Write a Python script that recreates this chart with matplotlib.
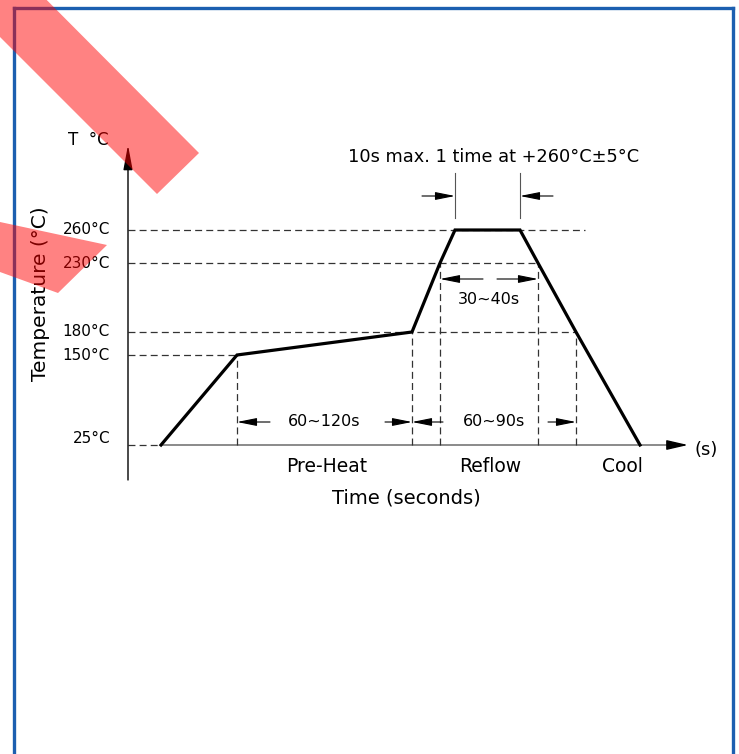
import numpy as np
import matplotlib.pyplot as plt
from matplotlib.patches import Polygon
from matplotlib.lines import Line2D

################################################################
# reflow profile (schematic)
################################################################

# temperature levels and their drawn height above the time axis (schematic, not linear)
levels = [25, 150, 180, 230, 260]
level_h = [0, 90, 113, 182, 215]
level_labels = ["25°C", "150°C", "180°C", "230°C", "260°C"]

# profile corners: schematic time (px from the T axis) / temperature
prof_time = [33, 109, 284, 312, 327, 392, 410, 448, 512]
prof_temp = [25, 150, 180, 230, 260, 260, 230, 180, 25]

# how far each horizontal guide runs to the right
guide_end = [33, 109, 448, 410, 457]
# points that get a vertical guide down to the axis
vguide_idx = [1, 2, 3, 6, 7]

# dimension spans: (index from, index to, label, arrow height, label height, tails)
spans = [
    (1, 2, "60~120s", 23, 23, (33, 27)),
    (2, 7, "60~90s", 23, 23, (31, 28)),
    (3, 6, "30~40s", 166, 146, (43, 41)),
]

region_names = ["Pre-Heat", "Reflow", "Cool"]
region_x = [199, 362, 494]

W, H = 739, 754


def fwd(t):
    return np.interp(t, [-975] + levels + [1260], [-1000] + level_h + [1215])


def inv(p):
    return np.interp(p, [-1000] + level_h + [1215], [-975] + levels + [1260])


plt.rcParams['font.family'] = ['DejaVu Sans']
plt.rcParams['lines.scale_dashes'] = False

fig = plt.figure(figsize=(W / 100, H / 100), dpi=100)
ax = fig.add_axes([0, 0, 1, 1])
ax.set_yscale('function', functions=(fwd, inv))
ax.set_xlim(-128, W - 128)
ax.set_ylim(inv(-(H - 445)), inv(445))
ax.axis('off')

dash = dict(color='#333333', lw=0.9, ls=(0, (5, 3)))
arr = dict(arrowstyle='-|>,head_length=1.0,head_width=0.2', color='black', lw=0.8,
           shrinkA=0, shrinkB=0, mutation_scale=12)

# horizontal guides
for lv, xe in zip(levels, guide_end):
    ax.plot([0, xe], [lv, lv], zorder=2, **dash)

# vertical guides
for i in vguide_idx:
    ax.plot([prof_time[i], prof_time[i]], [25, prof_temp[i]], zorder=2, **dash)

# time axis (gray) with black arrow head
ax.plot([prof_time[0], 548], [25, 25], color='#777777', lw=1.2, zorder=1)
ax.annotate('', xy=(560, 25), xytext=(545, 25),
            arrowprops=dict(arrowstyle='-|>,head_length=1.3,head_width=0.3',
                            color='black', lw=1, shrinkA=0, shrinkB=0))
# temperature axis
ax.annotate('', xy=(0, inv(300)), xytext=(0, inv(-35)),
            arrowprops=dict(arrowstyle='-|>,head_length=1.5,head_width=0.28',
                            color='black', lw=1, shrinkA=0, shrinkB=0))

# profile
ax.plot(prof_time, prof_temp, color='black', lw=2.3, zorder=4, solid_joinstyle='miter')

# level labels
for lv, lab in zip(levels, level_labels):
    dy = 5 if lv == 25 else 0
    ax.annotate(lab, xy=(-18, lv), xytext=(0, dy), textcoords='offset points',
                ha='right', va='center', fontsize=11)

# dimension arrows
for a, b, lab, h, th, (ta, tb) in spans:
    xa, xb = prof_time[a], prof_time[b]
    y = inv(h)
    ax.annotate('', xy=(xa, y), xytext=(xa + ta, y), arrowprops=arr)
    ax.annotate('', xy=(xb, y), xytext=(xb - tb, y), arrowprops=arr)
    ax.text((xa + xb) / 2, inv(th), lab, ha='center', va='center', fontsize=11.5)

# 10s max dimension (outside arrows)
for i, s in [(4, -1), (5, 1)]:
    x = prof_time[i]
    ax.plot([x, x], [inv(227), inv(272)], color='#555555', lw=0.8)
    ax.annotate('', xy=(x, inv(249)), xytext=(x + s * 33, inv(249)), arrowprops=arr)
ax.text(366, inv(288), "10s max. 1 time at +260°C±5°C", ha='center', va='center',
        fontsize=12.8)

# axis texts
for name, x in zip(region_names, region_x):
    ax.text(x, inv(-21), name, ha='center', va='center', fontsize=13.5)
ax.text(278, inv(-53), "Time (seconds)", ha='center', va='center', fontsize=14)
ax.text(578, inv(-5), "(s)", ha='center', va='center', fontsize=13)
ax.text(-60, inv(305), "T  °C", ha='left', va='center', fontsize=12)
ax.text(-87, inv(151), "Temperature (°C)", rotation=90, ha='center', va='center',
        fontsize=14.5)


# frame and stripes in figure pixels
def fp(x, y):
    return x / W, 1 - y / H


blue = '#1c5fb0'
for xs, ys in [([14, 14], [8, H]), ([14, 733], [8, 8]), ([733, 733], [8, H])]:
    p0, p1 = fp(xs[0], ys[0]), fp(xs[1], ys[1])
    fig.add_artist(Line2D([p0[0], p1[0]], [p0[1], p1[1]], color=blue, lw=2.4,
                          transform=fig.transFigure))

stripe1 = [(-10, -57), (199, 153), (157, 194), (-10, 27)]
stripe2 = [(0, 222), (107, 245), (58, 293), (0, 272)]
for st in [stripe1, stripe2]:
    fig.add_artist(Polygon([fp(x, y) for x, y in st], closed=True, color='red',
                           alpha=0.49, lw=0, transform=fig.transFigure, zorder=10))

plt.savefig("out.png", dpi=100)
